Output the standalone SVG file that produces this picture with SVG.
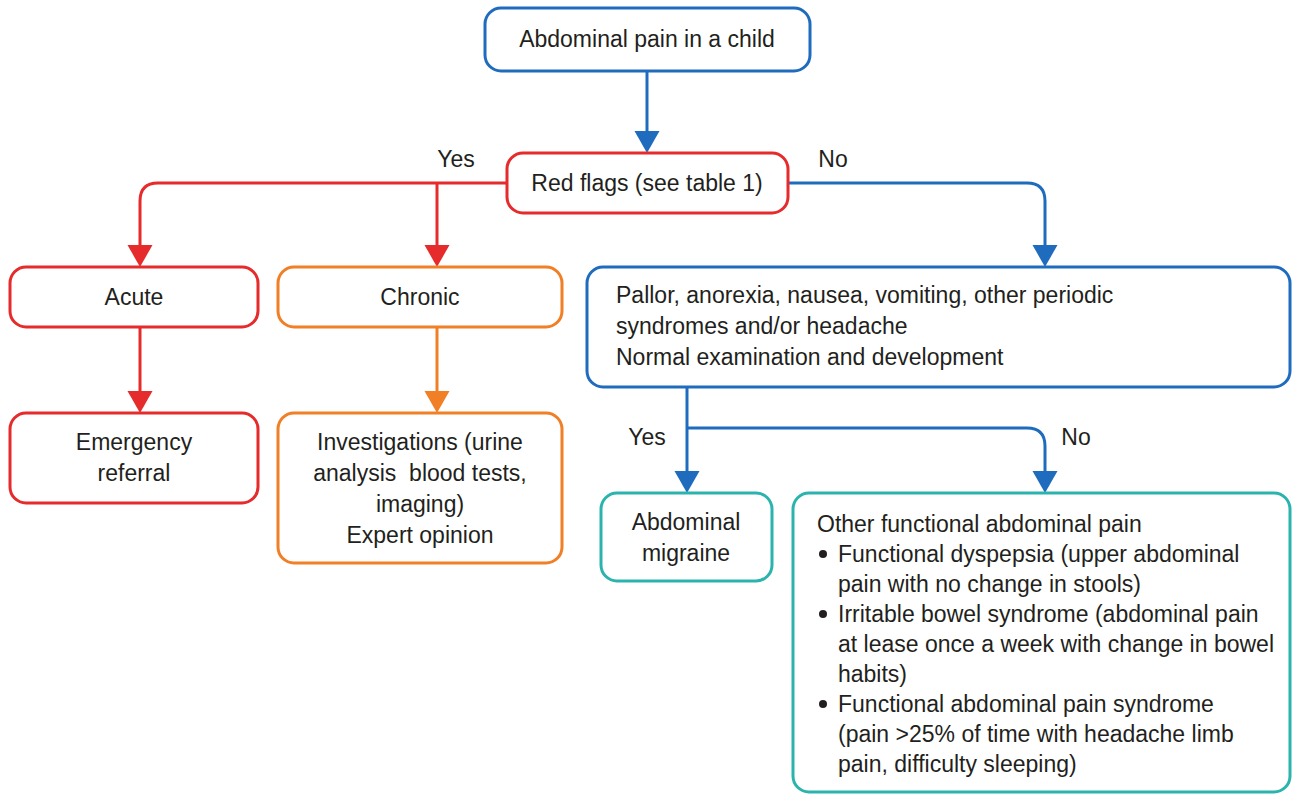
<svg xmlns="http://www.w3.org/2000/svg" width="1293" height="794" viewBox="0 0 1293 794">
<style>
text{font-family:"Liberation Sans",Arial,sans-serif;font-size:23px;fill:#231f20}
.c{text-anchor:middle}
.box{fill:#fff;stroke-width:3}
.blue{stroke:#1f6cbf}
.red{stroke:#e52b2b}
.orange{stroke:#f07f26}
.teal{stroke:#2bb3ae}
.ln{fill:none;stroke-width:3}
</style>
<defs>
<marker id="ab" markerUnits="userSpaceOnUse" markerWidth="24" markerHeight="26" viewBox="0 -13 22 26" refX="14" refY="0" orient="auto"><path d="M0,-12.5 L22,0 L0,12.5 z" fill="#1f6cbf"/></marker>
<marker id="ar" markerUnits="userSpaceOnUse" markerWidth="24" markerHeight="26" viewBox="0 -13 22 26" refX="14" refY="0" orient="auto"><path d="M0,-12.5 L22,0 L0,12.5 z" fill="#e52b2b"/></marker>
<marker id="ao" markerUnits="userSpaceOnUse" markerWidth="24" markerHeight="26" viewBox="0 -13 22 26" refX="14" refY="0" orient="auto"><path d="M0,-12.5 L22,0 L0,12.5 z" fill="#f07f26"/></marker>
</defs>
<g id="connectors">
<path class="ln blue" d="M647,71 V145" marker-end="url(#ab)"/>
<path class="ln red" d="M507,183 H158 Q140,183 140,201 V259" marker-end="url(#ar)"/>
<path class="ln red" d="M437,183 V259" marker-end="url(#ar)"/>
<path class="ln blue" d="M788,183 H1027 Q1045,183 1045,201 V259" marker-end="url(#ab)"/>
<path class="ln red" d="M140,327 V405" marker-end="url(#ar)"/>
<path class="ln orange" d="M437,327 V405" marker-end="url(#ao)"/>
<path class="ln blue" d="M687,387 V485" marker-end="url(#ab)"/>
<path class="ln blue" d="M687,428 H1027 Q1045,428 1045,446 V485" marker-end="url(#ab)"/>
<text x="456" y="167" class="c">Yes</text>
<text x="833" y="167" class="c">No</text>
<text x="647" y="445" class="c">Yes</text>
<text x="1076" y="445" class="c">No</text>
</g>
<g id="start">
<rect class="box blue" x="485" y="8" width="325" height="63" rx="16"/>
<text x="647" y="47" class="c">Abdominal pain in a child</text>
</g>
<g id="redflags">
<rect class="box red" x="507" y="153" width="281" height="60" rx="16"/>
<text x="647" y="191" class="c">Red flags (see table 1)</text>
</g>
<g id="acute">
<rect class="box red" x="10" y="267" width="248" height="60" rx="16"/>
<text x="134" y="305" class="c">Acute</text>
</g>
<g id="chronic">
<rect class="box orange" x="278" y="267" width="284" height="60" rx="16"/>
<text x="420" y="305" class="c">Chronic</text>
</g>
<g id="emergency">
<rect class="box red" x="10" y="413" width="248" height="90" rx="16"/>
<text x="134" y="450" class="c">Emergency</text>
<text x="134" y="481" class="c">referral</text>
</g>
<g id="investigations">
<rect class="box orange" x="278" y="413" width="284" height="150" rx="16"/>
<text x="420" y="450" class="c">Investigations (urine</text>
<text x="420" y="481" class="c" xml:space="preserve">analysis  blood tests,</text>
<text x="420" y="512" class="c">imaging)</text>
<text x="420" y="543" class="c">Expert opinion</text>
</g>
<g id="pallor">
<rect class="box blue" x="587" y="267" width="703" height="120" rx="16"/>
<text x="616" y="303">Pallor, anorexia, nausea, vomiting, other periodic</text>
<text x="616" y="334">syndromes and/or headache</text>
<text x="616" y="365">Normal examination and development</text>
</g>
<g id="migraine">
<rect class="box teal" x="601" y="493" width="171" height="88" rx="16"/>
<text x="686" y="530" class="c">Abdominal</text>
<text x="686" y="561" class="c">migraine</text>
</g>
<g id="functional">
<rect class="box teal" x="793" y="493" width="497" height="299" rx="16"/>
<text x="817" y="532">Other functional abdominal pain</text>
<circle cx="823" cy="554" r="4" fill="#231f20"/>
<text x="838" y="562">Functional dyspepsia (upper abdominal</text>
<text x="838" y="592">pain with no change in stools)</text>
<circle cx="823" cy="614" r="4" fill="#231f20"/>
<text x="838" y="622">Irritable bowel syndrome (abdominal pain</text>
<text x="838" y="652">at lease once a week with change in bowel</text>
<text x="838" y="682">habits)</text>
<circle cx="823" cy="704" r="4" fill="#231f20"/>
<text x="838" y="712">Functional abdominal pain syndrome</text>
<text x="838" y="742">(pain &gt;25% of time with headache limb</text>
<text x="838" y="772">pain, difficulty sleeping)</text>
</g>
</svg>
